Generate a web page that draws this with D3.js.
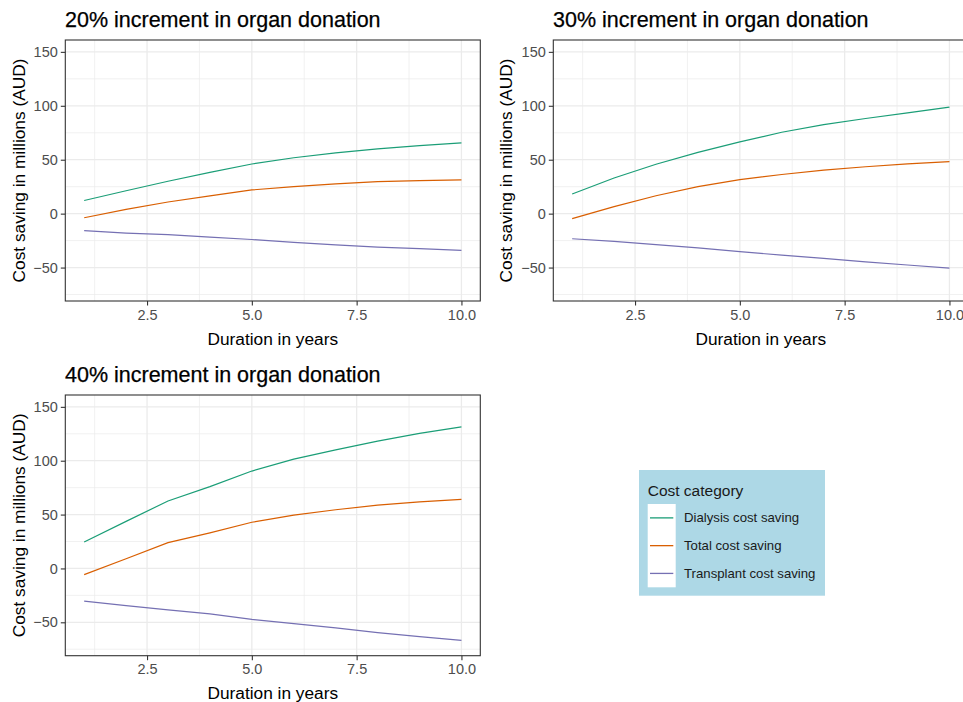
<!DOCTYPE html>
<html>
<head>
<meta charset="utf-8">
<script src="https://cdn.jsdelivr.net/npm/d3@7"></script>
<style>
  html, body { margin: 0; padding: 0; background: #ffffff; }
  svg { display: block; font-family: "Liberation Sans", Arial, sans-serif; }
</style>
</head>
<body>
<svg id="chart" width="963" height="702"></svg>
<script>
// ---------- data ----------
const years = [1, 2, 3, 4, 5, 6, 7, 8, 9, 10];
const categories = ["Dialysis cost saving", "Total cost saving", "Transplant cost saving"];
const panelTitles = ["20% increment in organ donation", "30% increment in organ donation", "40% increment in organ donation"];

const dialysis20   = [12.2, 21.2, 30.0, 38.2, 46.0, 51.8, 56.3, 60.0, 63.0, 65.6];
const total20      = [-3.8, 4.0, 10.8, 16.5, 22.0, 25.0, 27.6, 29.6, 30.6, 31.3];
const transplant20 = [-15.8, -18.0, -19.5, -21.8, -24.0, -26.6, -29.0, -31.0, -32.5, -34.0];

const dialysis30   = [18.2, 33.0, 45.8, 56.8, 66.5, 75.5, 82.6, 88.2, 93.5, 98.8];
const total30      = [-4.6, 6.5, 16.6, 25.0, 31.5, 36.3, 40.3, 43.5, 46.2, 48.3];
const transplant30 = [-23.3, -25.8, -28.8, -31.8, -35.3, -38.4, -41.5, -44.7, -47.6, -50.6];

const dialysis40   = [24.6, 43.7, 62.6, 76.0, 90.4, 101.4, 110.0, 118.2, 125.4, 131.4];
const total40      = [-5.7, 9.0, 24.0, 33.0, 42.9, 49.5, 54.5, 58.8, 61.8, 64.2];
const transplant40 = [-30.3, -34.6, -38.4, -42.2, -47.3, -51.2, -55.2, -59.5, -63.3, -66.7];

const xTicks = [2.5, 5.0, 7.5, 10.0];
const xMinor = [1.25, 3.75, 6.25, 8.75];
const yTicks = [-50, 0, 50, 100, 150];
const yMinor = [-75, -25, 25, 75, 125];
const xDomain = [0.55, 10.45];
const yDomain = [-81, 161];

const seriesByPanel = [
  [dialysis20, total20, transplant20],
  [dialysis30, total30, transplant30],
  [dialysis40, total40, transplant40]
];

// ---------- style / layout ----------
const colors = ["#1B9E77", "#D95F02", "#7570B3"];
const panelBoxes = [
  {left: 65.3,  top: 40,  width: 415, height: 261, ytitleX: 24.5},
  {left: 553.3, top: 40,  width: 415, height: 261, ytitleX: 511.5},
  {left: 65.3,  top: 395, width: 415, height: 260.7, ytitleX: 24.5}
];

const svg = d3.select("#chart");

panelBoxes.forEach((box, i) => {
  const x = d3.scaleLinear().domain(xDomain).range([box.left, box.left + box.width]);
  const y = d3.scaleLinear().domain(yDomain).range([box.top + box.height, box.top]);
  const g = svg.append("g");

  g.append("rect").attr("x", box.left).attr("y", box.top)
    .attr("width", box.width).attr("height", box.height).attr("fill", "#ffffff");

  // minor grid
  g.selectAll(".ymin").data(yMinor).enter().append("line")
    .attr("x1", box.left).attr("x2", box.left + box.width)
    .attr("y1", d => y(d)).attr("y2", d => y(d))
    .attr("stroke", "#EBEBEB").attr("stroke-width", 0.7);
  g.selectAll(".xmin").data(xMinor).enter().append("line")
    .attr("y1", box.top).attr("y2", box.top + box.height)
    .attr("x1", d => x(d)).attr("x2", d => x(d))
    .attr("stroke", "#EBEBEB").attr("stroke-width", 0.7);
  // major grid
  g.selectAll(".ymaj").data(yTicks).enter().append("line")
    .attr("x1", box.left).attr("x2", box.left + box.width)
    .attr("y1", d => y(d)).attr("y2", d => y(d))
    .attr("stroke", "#EBEBEB").attr("stroke-width", 1.3);
  g.selectAll(".xmaj").data(xTicks).enter().append("line")
    .attr("y1", box.top).attr("y2", box.top + box.height)
    .attr("x1", d => x(d)).attr("x2", d => x(d))
    .attr("stroke", "#EBEBEB").attr("stroke-width", 1.3);

  // lines
  const line = d3.line().x((d, j) => x(years[j])).y(d => y(d));
  seriesByPanel[i].forEach((vals, k) => {
    g.append("path").datum(vals).attr("d", line)
      .attr("fill", "none").attr("stroke", colors[k]).attr("stroke-width", 1.2);
  });

  // border
  g.append("rect").attr("x", box.left).attr("y", box.top)
    .attr("width", box.width).attr("height", box.height)
    .attr("fill", "none").attr("stroke", "#333333").attr("stroke-width", 1.1);

  // axes
  const xAxis = d3.axisBottom(x).tickValues(xTicks).tickFormat(d3.format(".1f"))
    .tickSizeOuter(0).tickSizeInner(4.5).tickPadding(4);
  const gx = g.append("g").attr("transform", `translate(0,${box.top + box.height})`).call(xAxis);
  gx.select(".domain").remove();
  gx.selectAll(".tick line").attr("stroke", "#333333").attr("stroke-width", 1.1);
  gx.selectAll(".tick text").attr("fill", "#4D4D4D").style("font-size", "14.5px")
    .style("font-family", "'Liberation Sans', Arial, sans-serif");

  const yAxis = d3.axisLeft(y).tickValues(yTicks).tickFormat(d3.format("d"))
    .tickSizeOuter(0).tickSizeInner(4.5).tickPadding(3);
  const gy = g.append("g").attr("transform", `translate(${box.left},0)`).call(yAxis);
  gy.select(".domain").remove();
  gy.selectAll(".tick line").attr("stroke", "#333333").attr("stroke-width", 1.1);
  gy.selectAll(".tick text").attr("fill", "#4D4D4D").style("font-size", "14.5px")
    .style("font-family", "'Liberation Sans', Arial, sans-serif");

  // panel title
  g.append("text").attr("x", box.left - 0.3).attr("y", box.top - 12.8)
    .attr("fill", "#000000").style("font-size", "21.5px")
    .attr("stroke", "#000000").attr("stroke-width", 0.25)
    .text(panelTitles[i]);

  // axis titles
  g.append("text").attr("x", box.left + box.width / 2).attr("y", box.top + box.height + 43.5)
    .attr("text-anchor", "middle").attr("fill", "#000000").style("font-size", "17.3px")
    .text("Duration in years");
  g.append("text")
    .attr("transform", `translate(${box.ytitleX},${box.top + box.height / 2}) rotate(-90)`)
    .attr("text-anchor", "middle").attr("fill", "#000000").style("font-size", "17.3px")
    .text("Cost saving in millions (AUD)");
});

// ---------- legend ----------
const lg = svg.append("g");
lg.append("rect").attr("x", 639).attr("y", 470).attr("width", 186).attr("height", 125.7)
  .attr("fill", "#ADD8E6");
lg.append("text").attr("x", 647.7).attr("y", 495.7).attr("fill", "#1a1a1a")
  .style("font-size", "15.5px").text("Cost category");
lg.append("rect").attr("x", 647.7).attr("y", 504).attr("width", 28).attr("height", 83.3)
  .attr("fill", "#ffffff");
const keyY = d3.scaleBand().domain(categories).range([504, 587.3]);
categories.forEach((c, k) => {
  const cy = keyY(c) + keyY.bandwidth() / 2;
  lg.append("line").attr("x1", 650).attr("x2", 673.3).attr("y1", cy).attr("y2", cy)
    .attr("stroke", colors[k]).attr("stroke-width", 1.3);
  lg.append("text").attr("x", 684).attr("y", cy + 4.6).attr("fill", "#1a1a1a")
    .style("font-size", "13.2px").text(c);
});
</script>
</body>
</html>
